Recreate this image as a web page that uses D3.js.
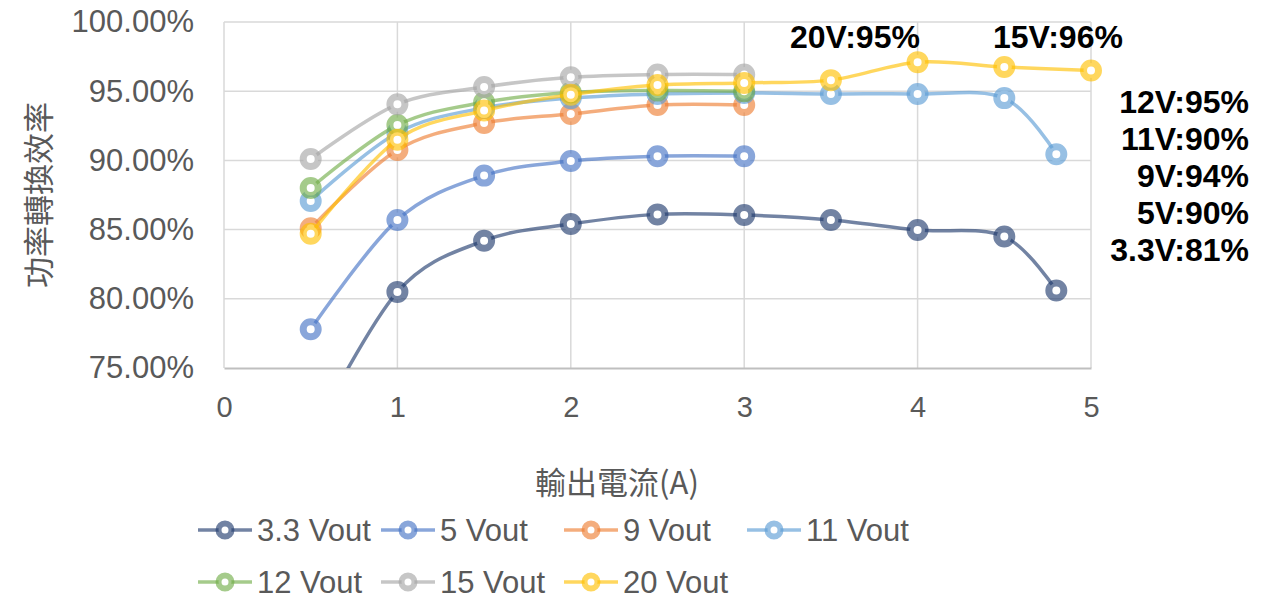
<!DOCTYPE html>
<html>
<head>
<meta charset="utf-8">
<script src="https://cdn.jsdelivr.net/npm/d3@7"></script>
<style>
  body { margin: 0; background: #fff; }
  svg text { font-family: "Liberation Sans", Arial, sans-serif; }
</style>
</head>
<body>
<svg width="1269" height="599"></svg>
<script>
// load current (A)
var currents = [0.5, 1, 1.5, 2, 2.5, 3, 3.5, 4, 4.5, 4.8, 5];

// efficiency (%) per output voltage, null where not measured
var v33 = [70.0, 80.5, 84.2, 85.4, 86.1, 86.05, 85.7, 84.97, 84.5, 80.6, null];
var v5  = [77.8, 85.7, 88.9, 89.95, 90.3, 90.3, null, null, null, null, null];
var v9  = [85.1, 90.75, 92.7, 93.35, 94.0, 94.0, null, null, null, null, null];
var v11 = [87.07, 92.0, 93.8, 94.5, 94.8, 94.87, 94.8, 94.8, 94.5, 90.45, null];
var v12 = [88.0, 92.55, 94.2, 94.9, 95.05, 95.0, null, null, null, null, null];
var v15 = [90.1, 94.05, 95.3, 96.0, 96.2, 96.2, null, null, null, null, null];
var v20 = [84.7, 91.5, 93.6, 94.75, 95.45, 95.6, 95.8, 97.1, 96.75, null, 96.5];

var seriesNames = ["3.3 Vout", "5 Vout", "9 Vout", "11 Vout", "12 Vout", "15 Vout", "20 Vout"];
var seriesValues = [v33, v5, v9, v11, v12, v15, v20];
var colors = ["#1f3a6e", "#4472c4", "#ed7d31", "#5b9bd5", "#70ad47", "#a5a5a5", "#ffc000"];

var xTicks = [0, 1, 2, 3, 4, 5];
var yTicks = [0.75, 0.80, 0.85, 0.90, 0.95, 1.00];

var noteTop = ["20V:95%", "15V:96%"];
var noteSide = ["12V:95%", "11V:90%", "9V:94%", "5V:90%", "3.3V:81%"];

var svg = d3.select("svg"),
    margin = {top: 22, right: 178, bottom: 231, left: 224},
    width = +svg.attr("width"),
    height = +svg.attr("height");

var x = d3.scaleLinear().domain([0, 5]).range([margin.left, width - margin.right]),
    y = d3.scaleLinear().domain([0.75, 1]).range([height - margin.bottom, margin.top]);

var alpha = 0.63;

// grid
svg.append("g")
    .selectAll("line.h")
    .data(yTicks.slice(1))
    .enter().append("line")
      .attr("x1", x(0)).attr("x2", x(5))
      .attr("y1", function(d) { return y(d); })
      .attr("y2", function(d) { return y(d); })
      .attr("stroke", "#d9d9d9").attr("stroke-width", 1.5);

svg.append("g")
    .selectAll("line.v")
    .data(xTicks)
    .enter().append("line")
      .attr("x1", function(d) { return x(d); })
      .attr("x2", function(d) { return x(d); })
      .attr("y1", y(1)).attr("y2", y(0.75))
      .attr("stroke", "#d9d9d9").attr("stroke-width", 1.5);

// axes
var gx = svg.append("g")
    .attr("transform", "translate(0," + y(0.75) + ")")
    .call(d3.axisBottom(x).tickValues(xTicks).tickSize(0).tickPadding(28).tickFormat(d3.format("d")));
gx.select(".domain").attr("stroke", "#bfbfbf").attr("stroke-width", 2);
gx.selectAll("text").attr("font-size", 29).attr("fill", "#595959")
    .attr("font-family", "Liberation Sans, Arial, sans-serif");

var gy = svg.append("g")
    .attr("transform", "translate(" + x(0) + ",0)")
    .call(d3.axisLeft(y).tickValues(yTicks).tickSize(0).tickPadding(30).tickFormat(d3.format(".2%")));
gy.select(".domain").remove();
gy.selectAll("text").attr("font-size", 31).attr("fill", "#595959")
    .attr("font-family", "Liberation Sans, Arial, sans-serif");

// axis titles
svg.append("text")
    .attr("x", 617).attr("y", 494)
    .attr("text-anchor", "middle")
    .attr("font-size", 31).attr("fill", "#595959")
    .style("font-family", "'Noto Sans CJK TC', 'Liberation Sans', sans-serif")
    .text("輸出電流(A)");

svg.append("text")
    .attr("transform", "translate(50,195) rotate(-90)")
    .attr("text-anchor", "middle")
    .attr("font-size", 31).attr("fill", "#595959")
    .style("font-family", "'Noto Sans CJK TC', 'Liberation Sans', sans-serif")
    .text("功率轉換效率");

// series
svg.append("clipPath").attr("id", "clip")
  .append("rect")
    .attr("x", 0).attr("y", 0)
    .attr("width", width).attr("height", y(0.75));

var line = d3.line()
    .curve(d3.curveCardinal.tension(0))
    .x(function(d) { return x(d[0]); })
    .y(function(d) { return y(d[1] / 100); });

var plot = svg.append("g").attr("clip-path", "url(#clip)");

seriesValues.forEach(function(vals, i) {
  var pts = currents.map(function(c, j) { return [c, vals[j]]; })
      .filter(function(d) { return d[1] != null; });
  var s = plot.append("g");
  s.append("path")
      .datum(pts)
      .attr("fill", "none")
      .attr("stroke", colors[i])
      .attr("stroke-opacity", alpha)
      .attr("stroke-width", 3.5)
      .attr("d", line);
  s.selectAll("circle")
      .data(pts)
      .enter().append("circle")
        .attr("cx", function(d) { return x(d[0]); })
        .attr("cy", function(d) { return y(d[1] / 100); })
        .attr("r", 7.5)
        .attr("fill", "#fff")
        .attr("stroke", colors[i])
        .attr("stroke-opacity", alpha)
        .attr("stroke-width", 7);
});

// legend
var legend = svg.append("g");
seriesNames.forEach(function(name, i) {
  var lx = 198 + (i % 4) * 183,
      ly = i < 4 ? 530 : 582;
  var item = legend.append("g").attr("transform", "translate(" + lx + "," + ly + ")");
  item.append("line")
      .attr("x1", 0).attr("x2", 54)
      .attr("stroke", colors[i]).attr("stroke-opacity", alpha).attr("stroke-width", 3.5);
  item.append("circle")
      .attr("cx", 27).attr("r", 6.5)
      .attr("fill", "#fff")
      .attr("stroke", colors[i]).attr("stroke-opacity", alpha).attr("stroke-width", 6);
  item.append("text")
      .attr("x", 59).attr("y", 11)
      .attr("font-size", 31).attr("fill", "#595959")
      .text(name);
});

// annotations
svg.selectAll("text.top")
    .data(noteTop)
    .enter().append("text")
      .attr("class", "top")
      .attr("x", function(d, i) { return i === 0 ? 790 : 993; })
      .attr("y", 48)
      .attr("font-size", 32).attr("font-weight", "bold").attr("fill", "#000")
      .text(function(d) { return d; });

svg.selectAll("text.side")
    .data(noteSide)
    .enter().append("text")
      .attr("class", "side")
      .attr("x", 1249)
      .attr("y", function(d, i) { return 113 + i * 37; })
      .attr("text-anchor", "end")
      .attr("font-size", 32).attr("font-weight", "bold").attr("fill", "#000")
      .text(function(d) { return d; });
</script>
</body>
</html>
